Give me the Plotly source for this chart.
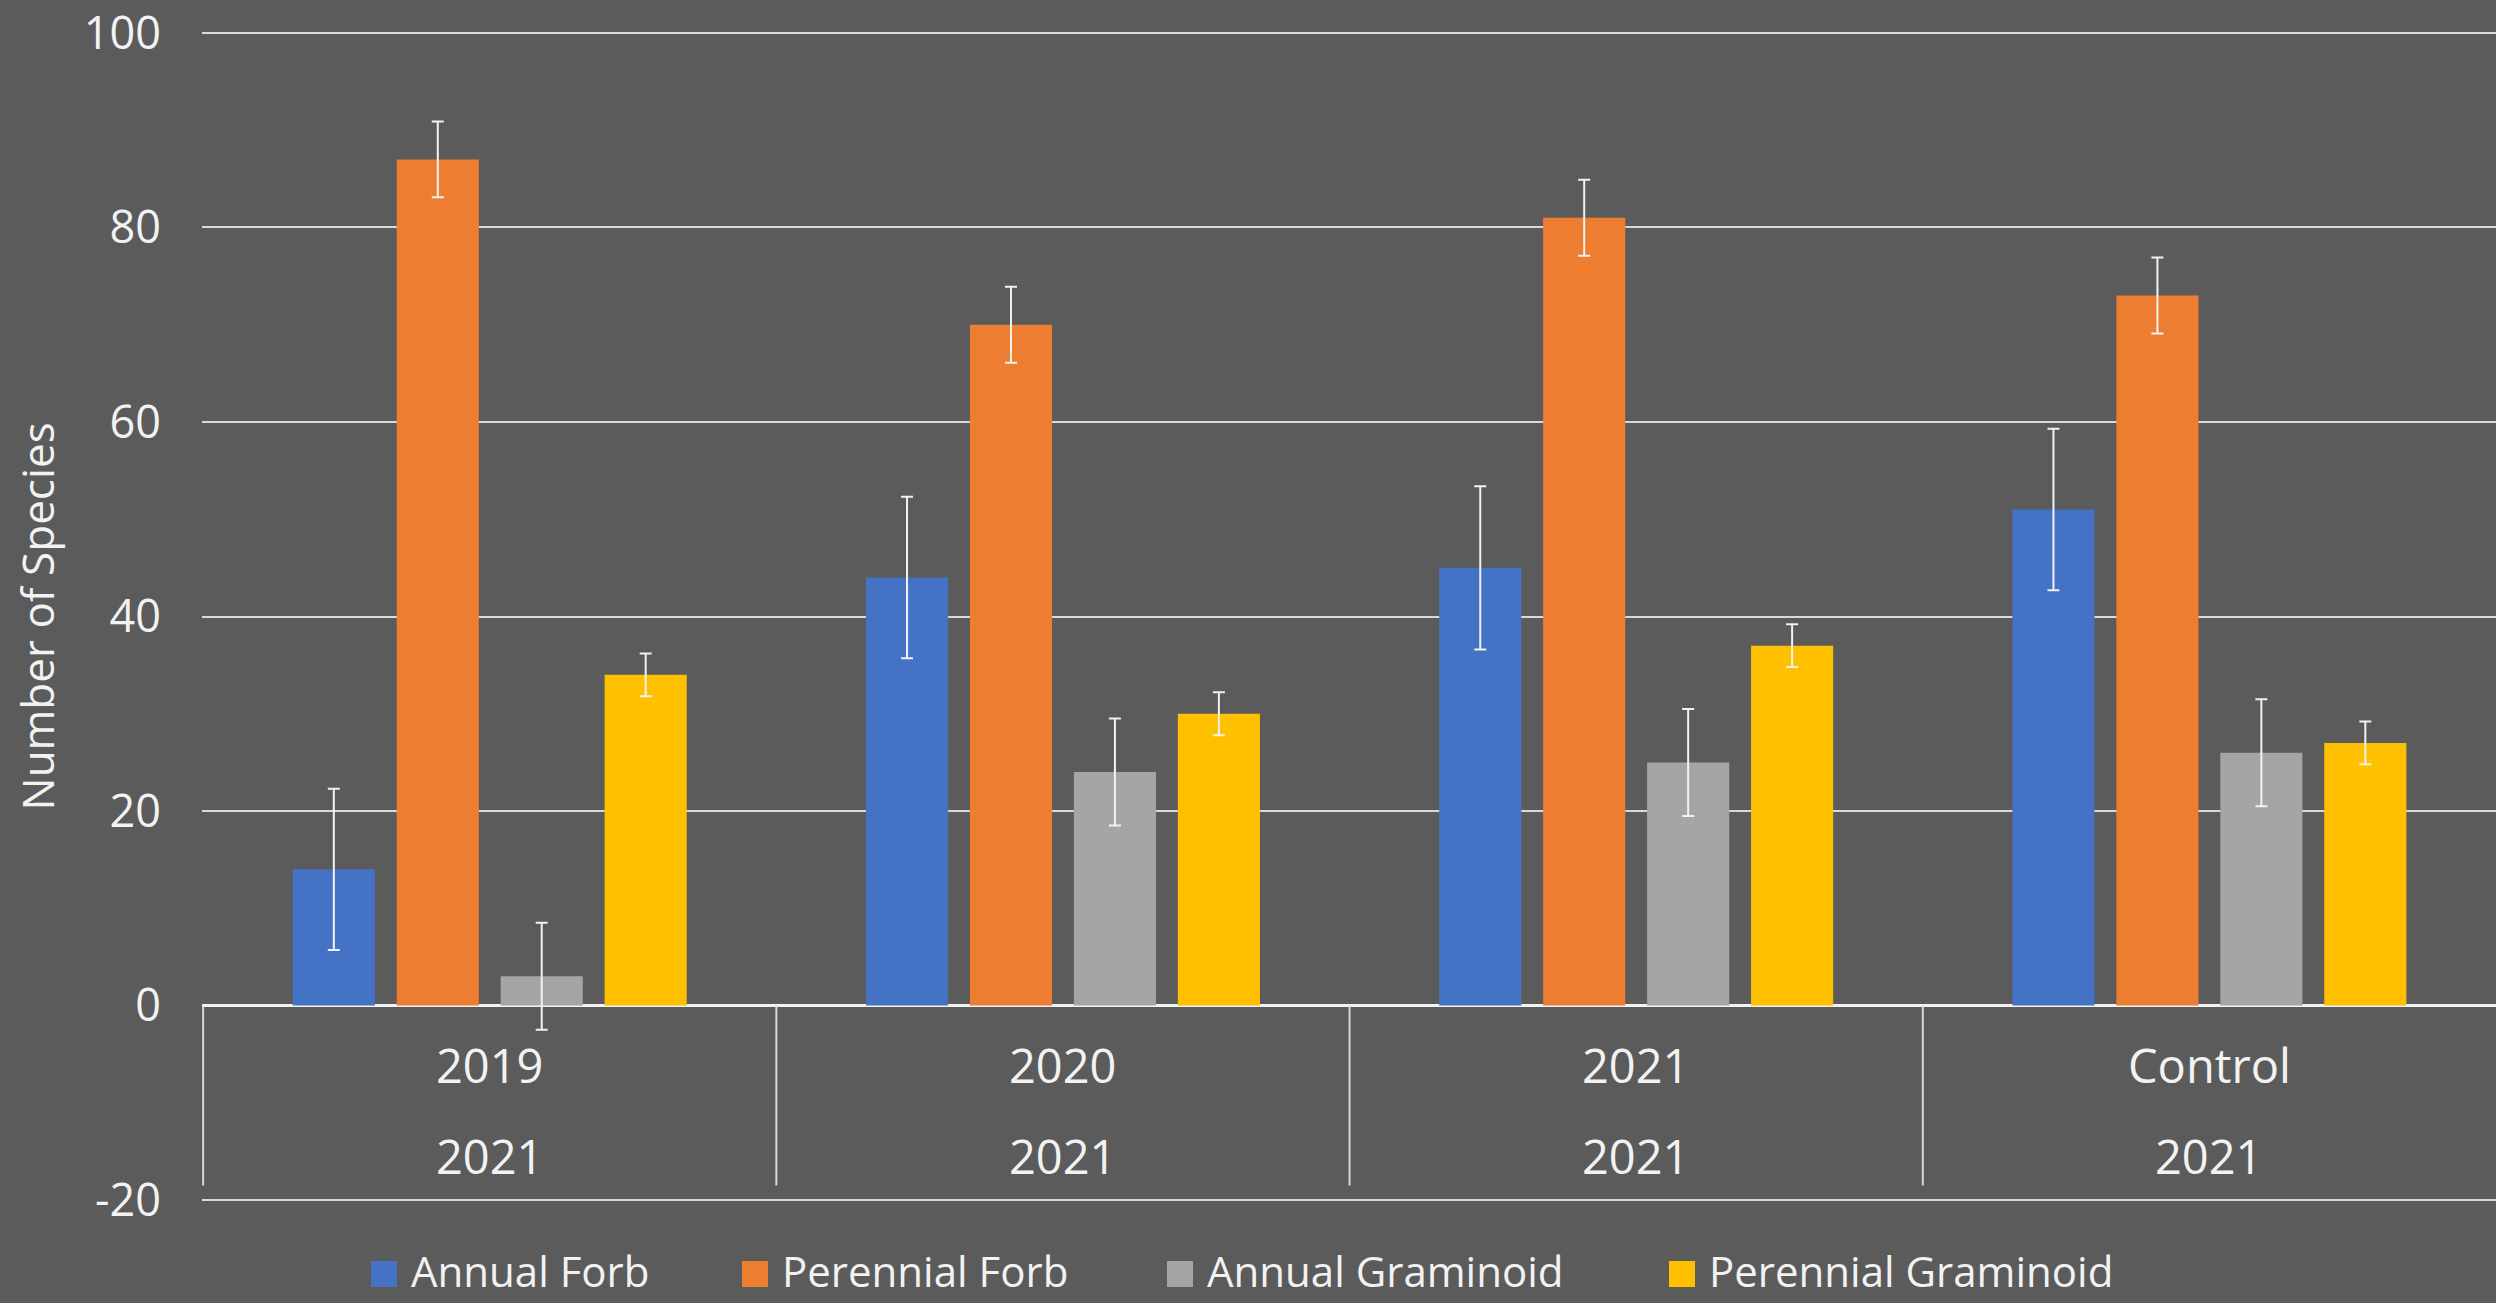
import plotly.graph_objects as go

categories = ["2019", "2020", "2021", "Control"]
sub_labels = ["2021", "2021", "2021", "2021"]
series_names = ["Annual Forb", "Perennial Forb", "Annual Graminoid", "Perennial Graminoid"]

annual_forb = [14, 44, 45, 51]
annual_forb_err = [8.3, 8.3, 8.4, 8.3]
perennial_forb = [87, 70, 81, 73]
perennial_forb_err = [3.9, 3.9, 3.9, 3.9]
annual_graminoid = [3, 24, 25, 26]
annual_graminoid_err = [5.5, 5.5, 5.5, 5.5]
perennial_graminoid = [34, 30, 37, 27]
perennial_graminoid_err = [2.2, 2.2, 2.2, 2.2]

y_ticks = [-20, 0, 20, 40, 60, 80, 100]
y_tick_text = ["-20", "0", "20", "40", "60", "80", "100"]

colors = ["#4472C4", "#ED7D31", "#A5A5A5", "#FFC000"]
BG = "#5B5B5B"
TXT = "#F2F2F2"
GRID = "#D9D9D9"
FONT = "Open Sans"

W, H = 2496, 1303
ML, MR, MT, MB = 202, 0, 31, 101
PW, PH = W - ML - MR, H - MT - MB

values = [annual_forb, perennial_forb, annual_graminoid, perennial_graminoid]
errors = [annual_forb_err, perennial_forb_err, annual_graminoid_err, perennial_graminoid_err]

fig = go.Figure()
for name, vals, errs, col in zip(series_names, values, errors, colors):
    fig.add_trace(go.Bar(
        name=name, x=categories, y=vals,
        marker=dict(color=col, line=dict(width=0)),
        error_y=dict(type="data", array=errs, visible=True, color=TXT, thickness=2, width=6),
    ))

# category separators in the axis area
for i in range(len(categories)):
    fig.add_shape(type="line", xref="x", yref="y", x0=i - 0.5, x1=i - 0.5, y0=0, y1=-18.5,
                  line=dict(color=GRID, width=2), layer="above")

for i, (c, s) in enumerate(zip(categories, sub_labels)):
    fig.add_annotation(x=i, y=-6.1, xref="x", yref="y", text=c, showarrow=False,
                       font=dict(family=FONT, size=47, color=TXT))
    fig.add_annotation(x=i, y=-15.5, xref="x", yref="y", text=s, showarrow=False,
                       font=dict(family=FONT, size=47, color=TXT))

fig.add_annotation(x=(36 - ML) / PW, y=0.5, xref="paper", yref="paper", text="Number of Species",
                   textangle=-90, showarrow=False, xanchor="center", yanchor="middle",
                   font=dict(family=FONT, size=44, color=TXT))

# legend drawn as swatches + labels below the axis
legend_sq_x = [371, 742, 1167, 1669]
sq_size = 26
leg_cy = 1270
for name, col, sx in zip(series_names, colors, legend_sq_x):
    fig.add_shape(type="rect", xref="paper", yref="paper",
                  x0=(sx - ML) / PW, x1=(sx + sq_size - ML) / PW,
                  y0=(MT + PH - (leg_cy + 4 + sq_size / 2)) / PH, y1=(MT + PH - (leg_cy + 4 - sq_size / 2)) / PH,
                  fillcolor=col, line=dict(width=0))
    fig.add_annotation(x=(sx + sq_size + 12 - ML) / PW, y=(MT + PH - leg_cy) / PH,
                       xref="paper", yref="paper", text=name, showarrow=False,
                       xanchor="left", yanchor="middle",
                       font=dict(family=FONT, size=42, color=TXT))

fig.update_layout(
    width=W, height=H,
    paper_bgcolor=BG, plot_bgcolor=BG,
    margin=dict(l=ML, r=MR, t=MT, b=MB, autoexpand=False),
    barmode="group", bargap=0.2746, bargroupgap=0.21,
    font=dict(family=FONT, size=44, color=TXT),
    showlegend=False,
    xaxis=dict(type="category", range=[-0.502, 3.5], showticklabels=False, showgrid=False,
               zeroline=False, showline=False, ticks=""),
    yaxis=dict(range=[-20.2, 100.2], tickvals=y_ticks, ticktext=y_tick_text, showgrid=True,
               gridcolor=GRID, gridwidth=2,
               zeroline=True, zerolinecolor=TXT, zerolinewidth=2.5, showline=False, ticks="",
               ticklabelstandoff=40, ticklabeloverflow="allow",
               tickfont=dict(family=FONT, size=45, color=TXT)),
)

fig.write_html("out.html", config={"displayModeBar": False},
               post_script="document.body.style.margin='0px';document.body.style.overflow='hidden';")
